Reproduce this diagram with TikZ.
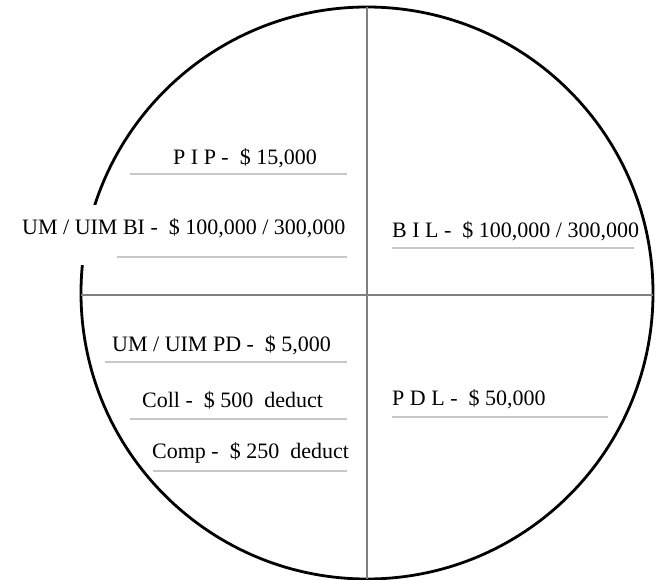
\documentclass[tikz,border=0pt]{standalone}
\usepackage{fontspec}
\setmainfont{Liberation Serif}
\begin{document}
\begin{tikzpicture}[x=1pt,y=-1pt,
  lbl/.style={anchor=base west,inner sep=0pt,font=\fontsize{22}{26}\selectfont},
  uline/.style={draw=black!22,line width=1.5pt},
  cross/.style={draw=black!50,line width=2.6pt},
  rim/.style={draw=black,line width=2.8pt}]
\useasboundingbox (0,0) rectangle (664,580);
\coordinate (c) at (367,293);
\draw[rim] (c) circle[radius=286];
\coordinate (top) at (367,7);
\coordinate (bot) at (367,579);
\coordinate (lft) at (81,295);
\coordinate (rgt) at (653,295);
\draw[cross] (top) -- (bot);
\draw[cross] (lft) -- (rgt);
% labels
\node[lbl] (pip) at (173,165) {P I P -\enspace\$ 15,000};
\node[lbl,fill=white,text height=30pt,text depth=30pt] (umbi) at (22,235) {UM / UIM BI -\enspace\$ 100,000 / 300,000};
\node[lbl] (bil) at (392,237) {B I L -\enspace\$ 100,000 / 300,000};
\node[lbl] (umpd) at (112,351) {UM / UIM PD -\enspace\$ 5,000};
\node[lbl] (coll) at (142,407) {Coll -\enspace\$ 500\enspace deduct};
\node[lbl] (comp) at (152,458) {Comp -\enspace\$ 250\enspace deduct};
\node[lbl] (pdl) at (392,405) {P D L -\enspace\$ 50,000};
% underlines
\coordinate (u1a) at (130,174); \coordinate (u1b) at (347,174);
\coordinate (u2a) at (117,257); \coordinate (u2b) at (347,257);
\coordinate (u3a) at (392,248); \coordinate (u3b) at (634,248);
\coordinate (u4a) at (105,362); \coordinate (u4b) at (347,362);
\coordinate (u5a) at (130,419); \coordinate (u5b) at (347,419);
\coordinate (u6a) at (153,471); \coordinate (u6b) at (347,471);
\coordinate (u7a) at (392,417); \coordinate (u7b) at (608,417);
\draw[uline] (u1a) -- (u1b);
\draw[uline] (u2a) -- (u2b);
\draw[uline] (u3a) -- (u3b);
\draw[uline] (u4a) -- (u4b);
\draw[uline] (u5a) -- (u5b);
\draw[uline] (u6a) -- (u6b);
\draw[uline] (u7a) -- (u7b);
\end{tikzpicture}
\end{document}
